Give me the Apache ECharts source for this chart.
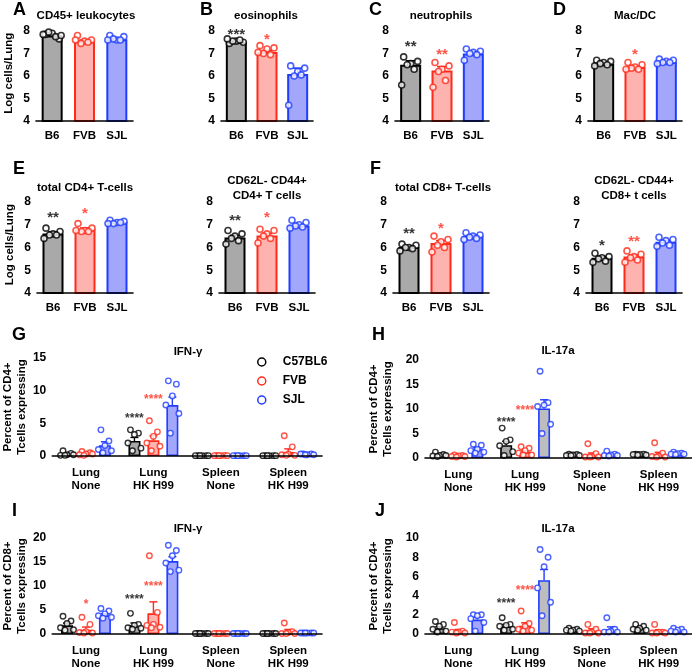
<!DOCTYPE html>
<html>
<head>
<meta charset="utf-8">
<script src="https://cdn.jsdelivr.net/npm/echarts@6/dist/echarts.min.js"></script>
<style>
  body { margin: 0; background: #fff; }
  #main { width: 692px; height: 671px; }
</style>
</head>
<body>
<div id="main"></div>
<script>
// ---------- data ----------
var strains = ['B6', 'FVB', 'SJL'];
var legendNames = ['C57BL6', 'FVB', 'SJL'];
var groups = ['Lung\nNone', 'Lung\nHK H99', 'Spleen\nNone', 'Spleen\nHK H99'];
var logTicks = [4, 5, 6, 7, 8];

// A  CD45+ leukocytes
var cd45Mean = [7.8, 7.55, 7.63];
var cd45Pts = [[7.85, 7.65, 7.9, 7.95, 7.75, 7.85, 7.8], [7.8, 7.6, 7.55, 7.45, 7.5, 7.6], [7.8, 7.75, 7.6, 7.65, 7.6, 7.6]];
var cd45Stars = [null, null, null];
// B  eosinophils
var eosMean = [7.51, 7.07, 6.09];
var eosPts = [[7.45, 7.5, 7.55, 7.55, 7.6, 7.65], [7.35, 7.25, 7.2, 7.0, 6.95, 7.05], [6.45, 6.35, 6.2, 6.0, 6.05, 4.7]];
var eosStars = [['***', 8.05], ['*', 7.8], null];
// C  neutrophils
var neuMean = [6.5, 6.25, 7.0];
var neuPts = [[6.85, 6.65, 6.55, 6.5, 6.3, 5.6], [6.6, 6.45, 6.3, 6.2, 5.8, 5.5], [7.2, 7.1, 7.05, 7.0, 6.95, 6.7]];
var neuStars = [['**', 7.5], ['**', 7.15], null];
// D  Mac/DC
var macMean = [6.55, 6.4, 6.62];
var macPts = [[6.7, 6.65, 6.6, 6.55, 6.5, 6.45], [6.6, 6.5, 6.4, 6.35, 6.3, 6.3], [6.75, 6.7, 6.65, 6.6, 6.6, 6.55]];
var macStars = [null, ['*', 7.15], null];
// E  total CD4+ T-cells
var cd4Mean = [6.62, 6.8, 7.12];
var cd4Pts = [[6.85, 6.7, 6.6, 6.55, 6.55, 6.4], [7.05, 6.85, 6.75, 6.7, 6.7, 6.75], [7.2, 7.15, 7.1, 7.05, 7.1, 7.05]];
var cd4Stars = [['**', 7.5], ['*', 7.67], null];
// CD62L- CD44+ CD4+ T cells
var cd4EffMean = [6.44, 6.53, 6.97];
var cd4EffPts = [[6.75, 6.6, 6.5, 6.4, 6.3, 6.15], [6.8, 6.75, 6.6, 6.5, 6.4, 6.2], [7.2, 7.1, 7.0, 6.95, 6.9, 6.85]];
var cd4EffStars = [['**', 7.36], ['*', 7.5], null];
// F  total CD8+ T-cells
var cd8Mean = [6.02, 6.2, 6.5];
var cd8Pts = [[6.15, 6.1, 6.0, 6.0, 5.95, 5.85], [6.5, 6.35, 6.25, 6.1, 6.0, 5.8], [6.65, 6.55, 6.5, 6.45, 6.4, 6.35]];
var cd8Stars = [['**', 6.8], ['*', 7.03], null];
// CD62L- CD44+ CD8+ t cells
var cd8EffMean = [5.55, 5.6, 6.25];
var cd8EffPts = [[5.75, 5.6, 5.55, 5.5, 5.4, 5.35], [5.85, 5.7, 5.6, 5.55, 5.45, 5.35], [6.45, 6.35, 6.3, 6.2, 6.1, 6.05]];
var cd8EffStars = [['*', 6.25], ['**', 6.45], null];

// G  IFN-g, CD4+  (rows: C57BL6, FVB, SJL; columns: groups)
var ifn4Mean = [[0.3, 2.3, 0.05, 0.05], [0.35, 2.4, 0.05, 0.6], [1.65, 7.8, 0.05, 0.25]];
var ifn4Pts = [
  [[0.8, 0.4, 0.2, 0.1, 0.2, 0.1], [4.0, 3.5, 3.3, 2.0, 1.2, 0.8], [0.05, 0.05, 0.05, 0.05, 0.05, 0.05], [0.05, 0.05, 0.05, 0.05, 0.05, 0.05]],
  [[0.7, 0.5, 0.3, 0.2, 0.3, 0.1], [5.4, 3.7, 3.0, 2.0, 1.5, 0.8], [0.1, 0.1, 0.05, 0.05, 0.05, 0.05], [3.1, 1.4, 0.3, 0.2, 0.1, 0.1]],
  [[4.0, 2.3, 1.6, 1.0, 0.8, 0.5], [11.5, 11.0, 9.2, 7.8, 6.5, 3.5], [0.05, 0.05, 0.05, 0.05, 0.05, 0.05], [0.3, 0.3, 0.2, 0.3, 0.2, 0.2]]
];
var ifn4Stars = [[0, 1, '****', 6.25], [1, 1, '****', 9.1]];

// H  IL-17a, CD4+
var il4Mean = [[0.6, 2.6, 0.6, 0.7], [0.4, 1.2, 0.6, 0.7], [1.8, 10.1, 0.7, 0.9]];
var il4Pts = [
  [[1.2, 0.7, 0.5, 0.4, 0.5, 0.3], [6.1, 3.7, 3.4, 2.5, 1.3, 0.5], [0.8, 0.7, 0.6, 0.5, 0.5, 0.5], [0.8, 0.8, 0.7, 0.7, 0.6, 0.6]],
  [[0.6, 0.5, 0.4, 0.3, 0.3, 0.2], [2.3, 2.0, 1.5, 1.0, 0.6, 0.6], [2.9, 0.9, 0.3, 0.2, 0.2, 0.2], [3.1, 1.0, 0.4, 0.3, 0.2, 0.2]],
  [[2.8, 2.6, 1.8, 1.5, 1.2, 1.0], [17.7, 11.3, 10.8, 10.5, 6.9, 5.0], [1.4, 0.8, 0.6, 0.5, 0.5, 0.4], [1.2, 1.0, 0.9, 0.8, 0.8, 0.7]]
];
var il4Stars = [[0, 1, '****', 8.0], [1, 1, '****', 10.4]];

// I  IFN-g, CD8+
var ifn8Mean = [[1.8, 1.8, 0.1, 0.1], [0.9, 4.3, 0.1, 0.6], [3.9, 15.2, 0.1, 0.2]];
var ifn8Pts = [
  [[3.7, 2.7, 2.2, 1.3, 0.9, 0.8], [4.3, 2.0, 1.8, 1.3, 1.2, 1.0], [0.1, 0.1, 0.1, 0.1, 0.1, 0.1], [0.1, 0.1, 0.1, 0.1, 0.1, 0.1]],
  [[3.5, 2.0, 0.5, 0.3, 0.2, 0.2], [16.3, 4.5, 2.0, 1.8, 1.4, 1.3], [0.1, 0.1, 0.1, 0.1, 0.1, 0.1], [2.3, 0.5, 0.3, 0.1, 0.1, 0.1]],
  [[5.3, 4.8, 4.2, 3.8, 3.5, 3.3], [18.5, 17.4, 16.3, 14.8, 13.3, 13.0], [0.1, 0.1, 0.1, 0.1, 0.1, 0.1], [0.2, 0.2, 0.2, 0.2, 0.2, 0.2]]
];
var ifn8Stars = [[1, 0, '*', 6.8], [0, 1, '****', 7.8], [1, 1, '****', 10.7]];

// J  IL-17a (second panel)
var il8Mean = [[0.6, 0.8, 0.4, 0.6], [0.3, 0.85, 0.4, 0.3], [1.5, 5.6, 0.5, 0.4]];
var il8Pts = [
  [[1.3, 1.0, 0.8, 0.5, 0.3, 0.2], [1.7, 1.0, 0.9, 0.8, 0.5, 0.4], [0.6, 0.5, 0.4, 0.4, 0.3, 0.3], [1.0, 0.8, 0.6, 0.5, 0.4, 0.4]],
  [[1.2, 0.3, 0.2, 0.2, 0.1, 0.1], [2.4, 1.1, 0.8, 0.5, 0.4, 0.3], [1.0, 0.5, 0.2, 0.1, 0.1, 0.1], [1.0, 0.2, 0.2, 0.1, 0.1, 0.1]],
  [[2.0, 2.0, 1.9, 1.6, 1.2, 0.3], [8.8, 8.0, 7.0, 4.8, 3.3, 1.9], [1.7, 0.5, 0.3, 0.2, 0.2, 0.2], [0.6, 0.5, 0.4, 0.3, 0.2, 0.2]]
];
var il8Stars = [[0, 1, '****', 3.55], [1, 1, '****', 4.85]];

// ---------- styling ----------
var FONT = 'Liberation Sans, Arial, sans-serif';
var edgeColors = ['#000000', '#ff2a1a', '#1f3cff'];
var fillColors = ['#a9a9a9', '#ffb3ae', '#a3a7fb'];
var GRAY = '#bdbdbd';
var JIT_SMALL = [-7, 7, 0, -3.5, 3.5, -9, 9];
var JIT_BIG = [-4, 4, 0, -6.5, 6.5, -2, 2];
var BIG_BAR = 12, BIG_GAP = 0.58;
var BIG_STEP = BIG_BAR * (1 + BIG_GAP);

function sem(arr) {
  var n = arr.length, m = 0, s = 0;
  arr.forEach(function (v) { m += v; });
  m /= n;
  arr.forEach(function (v) { s += (v - m) * (v - m); });
  return Math.sqrt(s / (n - 1)) / Math.sqrt(n);
}

var grids = [], xAxes = [], yAxes = [], series = [], texts = [];

function axisBase() {
  return {
    axisLine: { lineStyle: { color: '#000', width: 1.6 } },
    axisTick: { length: 4, lineStyle: { color: '#000', width: 1.6 } },
    axisLabel: { color: '#000', fontFamily: FONT, fontWeight: 'bold', fontSize: 12 },
    splitLine: { show: false },
    z: 10
  };
}

function errorSeries(gi, means, sems, offset, colorOf, cap, lw) {
  return {
    type: 'custom', xAxisIndex: gi, yAxisIndex: gi, z: 3, silent: true,
    data: means.map(function (m, i) { return [i, m, m + sems[i]]; }),
    renderItem: function (params, api) {
      var a = api.coord([api.value(0), api.value(1)]);
      var b = api.coord([api.value(0), api.value(2)]);
      var x = a[0] + offset, col = colorOf(params.dataIndex);
      return {
        type: 'group', children: [
          { type: 'line', shape: { x1: x, y1: a[1], x2: x, y2: b[1] }, style: { stroke: col, lineWidth: lw } },
          { type: 'line', shape: { x1: x - cap, y1: b[1], x2: x + cap, y2: b[1] }, style: { stroke: col, lineWidth: lw } }
        ]
      };
    }
  };
}

function starSeries(gi, items, size) {
  // items: [catIndex, text, y, colorIdx, dx]
  return {
    type: 'scatter', xAxisIndex: gi, yAxisIndex: gi, z: 6, silent: true,
    symbolSize: 0.1, itemStyle: { color: 'transparent' },
    data: items.map(function (s) {
      return {
        name: s[1], value: [s[0], s[2]],
        label: { show: true, position: 'inside', formatter: '{b}', offset: [s[4], size * 0.3],
          color: edgeColors[s[3]], fontFamily: FONT, fontWeight: 'bold', fontSize: size }
      };
    })
  };
}

// small (log) panels
var rowTop = [25.4, 196.3], rowH = [95.6, 96.7];
var smallPanels = [
  { row: 0, left: 36, width: 97, mean: cd45Mean, pts: cd45Pts, stars: cd45Stars, title: 'CD45+ leukocytes', tx: 86, letter: 'A', lx: 13, yName: 'Log cells/Lung' },
  { row: 0, left: 221, width: 92, mean: eosMean, pts: eosPts, stars: eosStars, title: 'eosinophils', tx: 266, letter: 'B', lx: 200 },
  { row: 0, left: 395, width: 94, mean: neuMean, pts: neuPts, stars: neuStars, title: 'neutrophils', tx: 441, letter: 'C', lx: 369 },
  { row: 0, left: 588, width: 94, mean: macMean, pts: macPts, stars: macStars, title: 'Mac/DC', tx: 635, letter: 'D', lx: 553 },
  { row: 1, left: 37, width: 96, mean: cd4Mean, pts: cd4Pts, stars: cd4Stars, title: 'total CD4+ T-cells', tx: 85, letter: 'E', lx: 13, yName: 'Log cells/Lung' },
  { row: 1, left: 219, width: 96, mean: cd4EffMean, pts: cd4EffPts, stars: cd4EffStars, title: 'CD62L- CD44+\nCD4+ T cells', tx: 267 },
  { row: 1, left: 393, width: 96, mean: cd8Mean, pts: cd8Pts, stars: cd8Stars, title: 'total CD8+ T-cells', tx: 443, letter: 'F', lx: 370 },
  { row: 1, left: 586, width: 96, mean: cd8EffMean, pts: cd8EffPts, stars: cd8EffStars, title: 'CD62L- CD44+\nCD8+ t cells', tx: 634 }
];
var titleY = [16, 188], letterY = [10, 169];

smallPanels.forEach(function (p) {
  var gi = grids.length;
  grids.push({ left: p.left, top: rowTop[p.row], width: p.width, height: rowH[p.row] });
  var xa = axisBase();
  xa.type = 'category'; xa.gridIndex = gi; xa.data = strains;
  xa.axisTick.alignWithLabel = true;
  xa.axisLabel.margin = 9; xa.axisLabel.fontSize = 11.5;
  xAxes.push(xa);
  var ya = axisBase();
  ya.type = 'value'; ya.gridIndex = gi; ya.min = 4; ya.max = 8.25;
  ya.axisTick.customValues = logTicks; ya.axisLabel.customValues = logTicks;
  ya.axisLabel.margin = 6;
  if (p.yName) {
    ya.name = p.yName; ya.nameLocation = 'middle'; ya.nameRotate = 90; ya.nameGap = 21;
    ya.nameTextStyle = { color: '#000', fontFamily: FONT, fontWeight: 'bold', fontSize: 11.5 };
  }
  yAxes.push(ya);

  series.push({
    type: 'bar', xAxisIndex: gi, yAxisIndex: gi, barWidth: 21, z: 2, silent: true,
    data: p.mean.map(function (m, i) {
      return { value: m, itemStyle: { color: fillColors[i], borderColor: edgeColors[i], borderWidth: 2 } };
    })
  });
  series.push(errorSeries(gi, p.mean, p.pts.map(sem), 0, function (i) { return edgeColors[i]; }, 5, 1.6));
  var dots = [];
  p.pts.forEach(function (arr, ci) {
    arr.forEach(function (v, k) {
      dots.push({ value: [ci, v], symbolOffset: [JIT_SMALL[k % JIT_SMALL.length], 0],
        itemStyle: { color: '#fff', borderColor: edgeColors[ci], borderWidth: 1.6 } });
    });
  });
  series.push({ type: 'scatter', xAxisIndex: gi, yAxisIndex: gi, z: 4, silent: true,
    symbol: 'circle', symbolSize: 6, data: dots });
  var st = [];
  p.stars.forEach(function (s, ci) { if (s) st.push([ci, s[0], s[1], ci, 0]); });
  if (st.length) series.push(starSeries(gi, st, 15));

  texts.push({ text: p.title, x: p.tx, y: titleY[p.row], size: 11.5, align: 'center' });
  if (p.letter) texts.push({ text: p.letter, x: p.lx, y: letterY[p.row], size: 18, align: 'left' });
});

// big (percent) panels
var bigPanels = [
  { left: 48, top: 358, width: 274, height: 98, max: 15, interval: 5, mean: ifn4Mean, pts: ifn4Pts, stars: ifn4Stars,
    yName: 'Percent of CD4+\nTcells expressing', nameGap: 20, title: 'IFN-γ', tx: 188, ty: 352, letter: 'G', lx: 12, ly: 335, gray: [] },
  { left: 425, top: 360, width: 267, height: 98, max: 20, interval: 5, mean: il4Mean, pts: il4Pts, stars: il4Stars,
    yName: 'Percent of CD4+\nTcells expressing', nameGap: 30, title: 'IL-17a', tx: 558, ty: 351, letter: 'H', lx: 372, ly: 335, gray: [[2, 1]] },
  { left: 48, top: 538, width: 274, height: 96, max: 20, interval: 5, mean: ifn8Mean, pts: ifn8Pts, stars: ifn8Stars,
    yName: 'Percent of CD8+\nTcells expressing', nameGap: 21, title: 'IFN-γ', tx: 188, ty: 529, letter: 'I', lx: 12, ly: 511, gray: [] },
  { left: 425, top: 538, width: 267, height: 96, max: 10, interval: 2, mean: il8Mean, pts: il8Pts, stars: il8Stars,
    yName: 'Percent of CD4+\nTcells expressing', nameGap: 30, title: 'IL-17a', tx: 558, ty: 529, letter: 'J', lx: 375, ly: 511, gray: [[2, 1]] }
];

bigPanels.forEach(function (p) {
  var gi = grids.length;
  grids.push({ left: p.left, top: p.top, width: p.width, height: p.height });
  var xa = axisBase();
  xa.type = 'category'; xa.gridIndex = gi; xa.data = groups;
  xa.axisTick.alignWithLabel = true; xa.axisTick.length = 5;
  xa.axisLabel.margin = 10; xa.axisLabel.lineHeight = 13; xa.axisLabel.fontSize = 11.5;
  xAxes.push(xa);
  var ya = axisBase();
  ya.type = 'value'; ya.gridIndex = gi; ya.min = 0; ya.max = p.max; ya.interval = p.interval;
  ya.axisLabel.margin = 6;
  ya.name = p.yName; ya.nameLocation = 'middle'; ya.nameRotate = 90; ya.nameGap = p.nameGap;
  ya.nameTextStyle = { color: '#000', fontFamily: FONT, fontWeight: 'bold', fontSize: 11.5, lineHeight: 14 };
  yAxes.push(ya);

  p.mean.forEach(function (means, s) {
    series.push({
      type: 'bar', name: legendNames[s], xAxisIndex: gi, yAxisIndex: gi, barWidth: BIG_BAR,
      barGap: (BIG_GAP * 100) + '%', z: 2, silent: true,
      data: means.map(function (m, g) {
        var isGray = p.gray.some(function (q) { return q[0] === s && q[1] === g; });
        return { value: m, itemStyle: { color: isGray ? GRAY : fillColors[s], borderColor: edgeColors[s], borderWidth: 1.6 } };
      })
    });
  });
  p.mean.forEach(function (means, s) {
    var off = (s - 1) * BIG_STEP;
    series.push(errorSeries(gi, means, p.pts[s].map(sem), off, function () { return edgeColors[s]; }, 4, 1.4));
    var dots = [];
    p.pts[s].forEach(function (arr, g) {
      arr.forEach(function (v, k) {
        dots.push({ value: [g, v], symbolOffset: [off + JIT_BIG[k % JIT_BIG.length], 0] });
      });
    });
    series.push({ type: 'scatter', name: legendNames[s], xAxisIndex: gi, yAxisIndex: gi, z: 4, silent: true,
      symbol: 'circle', symbolSize: 5.5,
      itemStyle: { color: '#fff', borderColor: edgeColors[s], borderWidth: 1.4 }, data: dots });
  });
  series.push(starSeries(gi, p.stars.map(function (s) {
    return [s[1], s[2], s[3], s[0], (s[0] - 1) * BIG_STEP];
  }), 12));

  texts.push({ text: p.title, x: p.tx, y: p.ty, size: 11.5, align: 'center' });
  texts.push({ text: p.letter, x: p.lx, y: p.ly, size: 18, align: 'left' });
});

var myChart = echarts.init(document.getElementById('main'));
var option = {
  animation: false,
  backgroundColor: '#fff',
  grid: grids,
  xAxis: xAxes,
  yAxis: yAxes,
  legend: {
    left: 252, top: 351, orient: 'vertical', itemWidth: 8, itemHeight: 8, itemGap: 7, selectedMode: false,
    textStyle: { color: '#000', fontFamily: FONT, fontWeight: 'bold', fontSize: 12, padding: [0, 0, 0, 12] },
    data: legendNames.map(function (n, i) {
      return { name: n, icon: 'circle', itemStyle: { color: '#fff', borderColor: edgeColors[i], borderWidth: 1.5 } };
    })
  },
  graphic: texts.map(function (t) {
    return {
      type: 'text', x: t.x, y: t.y, silent: true,
      style: { text: t.text, fill: '#000', fontFamily: FONT, fontWeight: 'bold', fontSize: t.size,
        lineHeight: 15, align: t.align, textAlign: t.align, verticalAlign: 'middle', textVerticalAlign: 'middle' }
    };
  }),
  series: series
};
myChart.setOption(option);
</script>
</body>
</html>
